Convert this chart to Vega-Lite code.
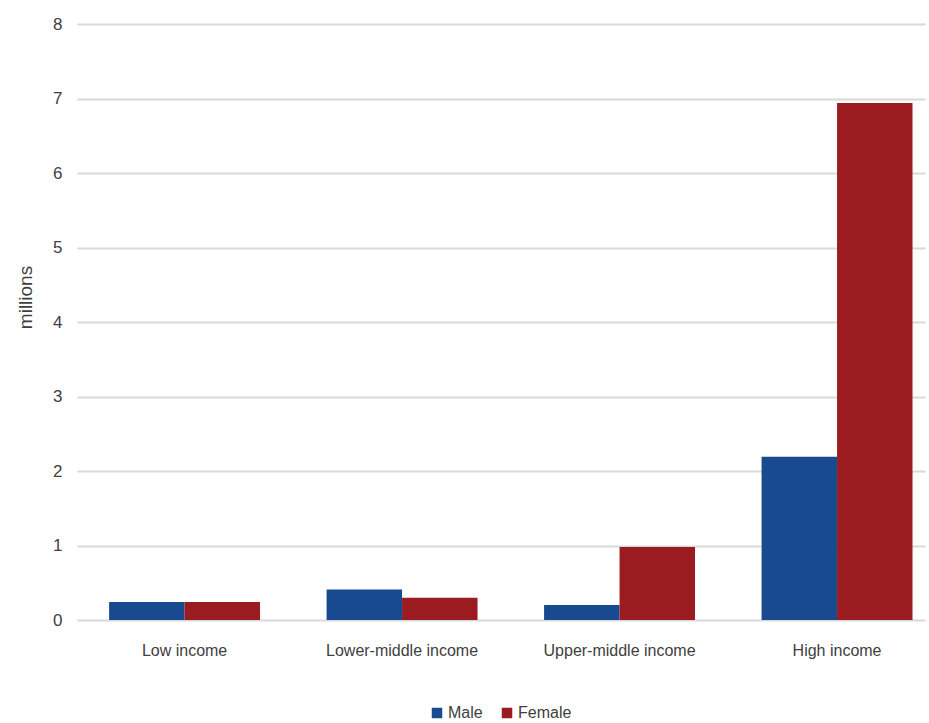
{
  "$schema": "https://vega.github.io/schema/vega-lite/v6.json",
  "width": 848,
  "height": 596,
  "autosize": {"type": "none"},
  "padding": {"left": 77, "top": 24, "right": 4, "bottom": 103},
  "background": "white",
  "config": {
    "font": "Liberation Sans",
    "view": {"stroke": null}
  },
  "data": {
    "values": [
      {"income": "Low income", "sex": "Male", "value": 0.24},
      {"income": "Low income", "sex": "Female", "value": 0.24},
      {"income": "Lower-middle income", "sex": "Male", "value": 0.41},
      {"income": "Lower-middle income", "sex": "Female", "value": 0.30},
      {"income": "Upper-middle income", "sex": "Male", "value": 0.20},
      {"income": "Upper-middle income", "sex": "Female", "value": 0.98},
      {"income": "High income", "sex": "Male", "value": 2.19},
      {"income": "High income", "sex": "Female", "value": 6.94}
    ]
  },
  "mark": {"type": "bar"},
  "encoding": {
    "x": {
      "field": "income",
      "type": "nominal",
      "sort": ["Low income", "Lower-middle income", "Upper-middle income", "High income"],
      "scale": {"paddingInner": 0.306, "paddingOuter": 0.1025, "align": 0.72},
      "axis": {
        "title": null,
        "labelAngle": 0,
        "domain": false,
        "ticks": false,
        "labelFontSize": 16,
        "labelColor": "#404040",
        "labelPadding": 22
      }
    },
    "xOffset": {
      "field": "sex",
      "type": "nominal",
      "sort": ["Male", "Female"],
      "scale": {"paddingInner": 0, "paddingOuter": 0}
    },
    "y": {
      "field": "value",
      "type": "quantitative",
      "scale": {"domain": [0, 8], "nice": false},
      "axis": {
        "title": "millions",
        "titleFontSize": 19,
        "titleFontWeight": "normal",
        "titleColor": "#404040",
        "titleX": -52,
        "titleY": 273,
        "titleAngle": -90,
        "titleAlign": "center",
        "titleBaseline": "middle",
        "values": [0, 1, 2, 3, 4, 5, 6, 7, 8],
        "domain": false,
        "ticks": false,
        "labelFontSize": 17,
        "labelColor": "#404040",
        "labelPadding": 15,
        "gridColor": "#d9d9d9",
        "gridWidth": 2
      }
    },
    "color": {
      "field": "sex",
      "type": "nominal",
      "sort": ["Male", "Female"],
      "scale": {"domain": ["Male", "Female"], "range": ["#174A8E", "#9A1C20"]},
      "legend": {
        "title": null,
        "orient": "none",
        "legendX": 352,
        "legendY": 681,
        "direction": "horizontal",
        "symbolType": "square",
        "symbolSize": 110,
        "symbolOpacity": 1,
        "labelFontSize": 16,
        "labelColor": "#404040",
        "labelOffset": 3,
        "columnPadding": 16
      }
    }
  }
}
